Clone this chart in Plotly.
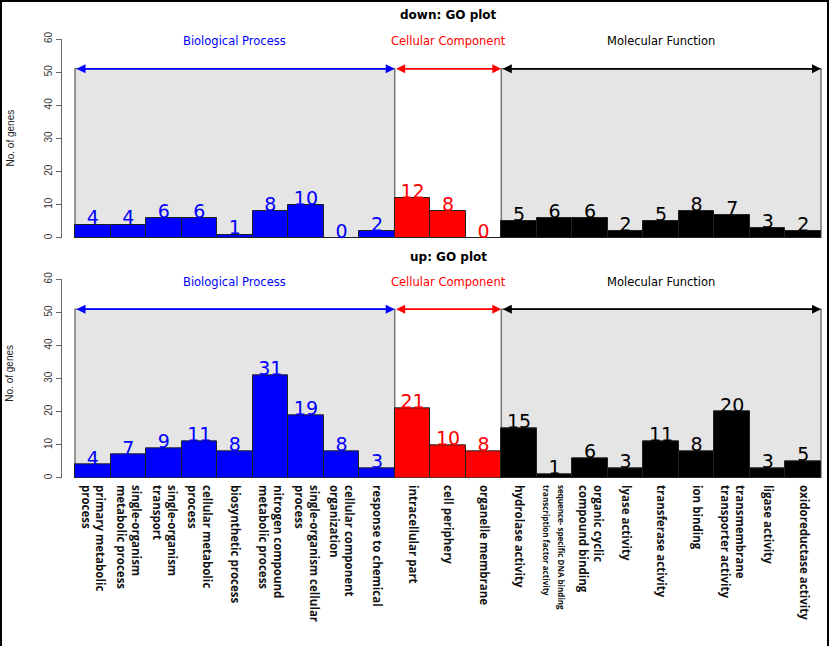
import plotly.graph_objects as go

# ---- data ----
bp_labels = ["primary metabolic<br>process", "single-organism<br>metabolic process",
             "single-organism<br>transport", "cellular metabolic<br>process",
             "biosynthetic process", "nitrogen compound<br>metabolic process",
             "single-organism cellular<br>process", "cellular component<br>organization",
             "response to chemical"]
cc_labels = ["intracellular part", "cell periphery", "organelle membrane"]
mf_labels = ["hydrolase activity",
             "<span style='font-size:8px'>sequence- specific DNA binding<br>transcription factor activity</span>",
             "organic cyclic<br>compound binding", "lyase activity", "transferase activity",
             "ion binding", "transmembrane<br>transporter activity", "ligase activity",
             "oxidoreductase activity"]

down_bp = [4, 4, 6, 6, 1, 8, 10, 0, 2]
down_cc = [12, 8, 0]
down_mf = [5, 6, 6, 2, 5, 8, 7, 3, 2]

up_bp = [4, 7, 9, 11, 8, 31, 19, 8, 3]
up_cc = [21, 10, 8]
up_mf = [15, 1, 6, 3, 11, 8, 20, 3, 5]

group_names = ["Biological Process", "Cellular Component", "Molecular Function"]
group_colors = ["#0000ff", "#ff0000", "#000000"]
panel_titles = ["down: GO plot", "up: GO plot"]
y_ticks = [0, 10, 20, 30, 40, 50, 60]
arrow_level = 51
group_label_level = 59.3

# ---- figure ----
W, H = 829, 646
ml, mr, mt, mb = 62, 5, 39, 168
ph = H - mt - mb
pw = W - ml - mr
top_y0 = (477.7 - 238) / (477.7 - 39.3)
bot_y1 = (477.7 - 279.3) / (477.7 - 39.3)

fig = go.Figure()

labels = bp_labels + cc_labels + mf_labels
n_bp, n_cc, n_mf = len(bp_labels), len(cc_labels), len(mf_labels)
n = n_bp + n_cc + n_mf
centers = [i + 0.5 for i in range(n)]
colors = [group_colors[0]] * n_bp + [group_colors[1]] * n_cc + [group_colors[2]] * n_mf
bounds = [(0, n_bp), (n_bp, n_bp + n_cc), (n_bp + n_cc, n)]

panels = [(down_bp + down_cc + down_mf, "x", "y"), (up_bp + up_cc + up_mf, "x2", "y2")]
annotations = []
shapes = []
for pi, (vals, xa, ya) in enumerate(panels):
    fig.add_trace(go.Bar(x=centers, y=vals, width=1, marker_color=colors,
                         marker_line_color="#222222", marker_line_width=1,
                         xaxis=xa, yaxis=ya, showlegend=False, hoverinfo="skip"))
    fig.add_trace(go.Scatter(x=centers, y=[v + 1.5 for v in vals], mode="text",
                             text=[str(v) for v in vals],
                             textfont=dict(family="DejaVu Sans", size=19, color=colors),
                             xaxis=xa, yaxis=ya, showlegend=False, hoverinfo="skip",
                             cliponaxis=False))
    # gray background boxes (BP and MF)
    for gi in (0, 2):
        b0, b1 = bounds[gi]
        shapes.append(dict(type="rect", xref=xa, yref=ya, x0=b0, x1=b1, y0=0, y1=arrow_level,
                           fillcolor="#e5e5e5", line=dict(color="#777777", width=1.5),
                           layer="below"))
    for gi, (b0, b1) in enumerate(bounds):
        annotations.append(dict(xref=xa, yref=ya, axref=xa, ayref=ya,
                                x=b1, y=arrow_level, ax=b0, ay=arrow_level,
                                text="", showarrow=True, arrowside="end+start",
                                arrowhead=2, startarrowhead=2, arrowsize=1, startarrowsize=1,
                                arrowwidth=1.8, arrowcolor=group_colors[gi]))
        annotations.append(dict(xref=xa, yref=ya, x=(b0 + b1) / 2, y=group_label_level,
                                text=group_names[gi], showarrow=False,
                                xanchor="center", yanchor="middle",
                                font=dict(family="DejaVu Sans", size=11.5, color=group_colors[gi])))
    annotations.append(dict(xref=xa, yref="paper", x=n / 2,
                            y=(1.0 + 24 / ph) if pi == 0 else (bot_y1 + 22.5 / ph),
                            xanchor="center", yanchor="middle",
                            text="<b>" + panel_titles[pi] + "</b>", showarrow=False,
                            font=dict(family="DejaVu Sans", size=12, color="black")))
    annotations.append(dict(xref="paper", yref="paper", x=-52 / pw,
                            y=(top_y0 + 1) / 2 if pi == 0 else bot_y1 / 2 + 5 / ph,
                            xanchor="center", yanchor="middle",
                            text="No. of genes", textangle=-90, showarrow=False,
                            font=dict(family="Liberation Sans", size=10, color="#222222")))

# outer frame
shapes.append(dict(type="rect", xref="paper", yref="paper",
                   x0=(1 - ml) / pw, x1=(W - 1 - ml) / pw,
                   y0=(mb - H + 3) / ph, y1=(H - mb - 1) / ph,
                   line=dict(color="black", width=2), fillcolor="rgba(0,0,0,0)"))

xr = [-13 / 35.52, n + 3 / 35.52]
yaxis_common = dict(range=[0, 60], tickvals=y_ticks, ticks="outside", ticklen=5,
                    tickcolor="#666666", showline=True, linecolor="#666666", linewidth=1,
                    showgrid=False, zeroline=False, tickangle=-90,
                    tickfont=dict(family="Liberation Sans", size=10, color="#333333"),
                    fixedrange=True)
fig.update_layout(
    width=W, height=H, margin=dict(l=ml, r=mr, t=mt, b=mb),
    plot_bgcolor="white", paper_bgcolor="white", bargap=0,
    xaxis=dict(domain=[0, 1], range=xr, showticklabels=False, showgrid=False,
               zeroline=False, showline=False, anchor="y"),
    yaxis=dict(domain=[top_y0, 1], anchor="x", **yaxis_common),
    xaxis2=dict(domain=[0, 1], range=xr, showgrid=False, zeroline=False, showline=False,
                anchor="y2", tickvals=centers, ticktext=labels, tickangle=90,
                ticks="", ticklabelstandoff=6,
                tickfont=dict(family="Open Sans", size=11.5, color="#111111", weight="bold")),
    yaxis2=dict(domain=[0, bot_y1], anchor="x2", **yaxis_common),
    annotations=annotations, shapes=shapes,
)

fig.write_html("out.html")
